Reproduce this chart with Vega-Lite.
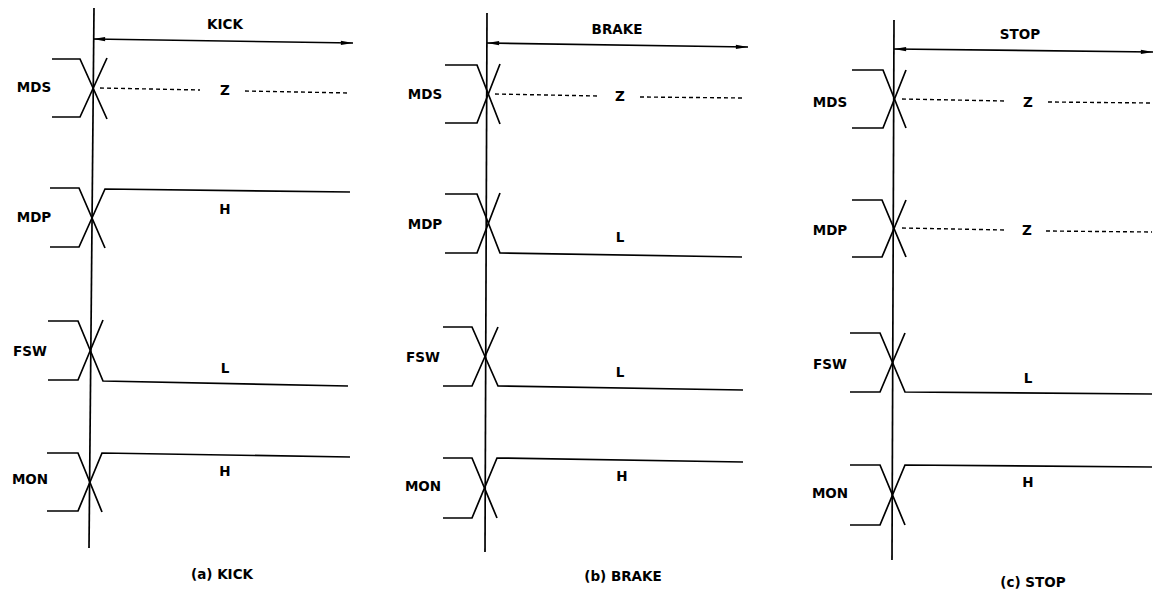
{
  "$schema": "https://vega.github.io/schema/vega-lite/v6.json",
  "width": 1162,
  "height": 595,
  "autosize": {"type": "fit", "contains": "padding"},
  "padding": 0,
  "background": "white",
  "config": {"view": {"stroke": null}},
  "datasets": {
    "solid": [
      {"id": "a_mds_u", "o": 1, "x": 52, "y": 59}, {"id": "a_mds_u", "o": 2, "x": 80, "y": 59}, {"id": "a_mds_u", "o": 3, "x": 107, "y": 119},
      {"id": "a_mds_l", "o": 1, "x": 52, "y": 117}, {"id": "a_mds_l", "o": 2, "x": 80, "y": 117}, {"id": "a_mds_l", "o": 3, "x": 107, "y": 58},
      {"id": "a_mdp_u", "o": 1, "x": 50, "y": 188}, {"id": "a_mdp_u", "o": 2, "x": 79, "y": 188}, {"id": "a_mdp_u", "o": 3, "x": 105, "y": 248},
      {"id": "a_mdp_l", "o": 1, "x": 50, "y": 247}, {"id": "a_mdp_l", "o": 2, "x": 79, "y": 247}, {"id": "a_mdp_l", "o": 3, "x": 105, "y": 189}, {"id": "a_mdp_l", "o": 4, "x": 350, "y": 192},
      {"id": "a_fsw_u", "o": 1, "x": 48, "y": 321}, {"id": "a_fsw_u", "o": 2, "x": 78, "y": 321}, {"id": "a_fsw_u", "o": 3, "x": 103, "y": 381}, {"id": "a_fsw_u", "o": 4, "x": 348, "y": 386},
      {"id": "a_fsw_l", "o": 1, "x": 48, "y": 380}, {"id": "a_fsw_l", "o": 2, "x": 78, "y": 380}, {"id": "a_fsw_l", "o": 3, "x": 103, "y": 320},
      {"id": "a_mon_u", "o": 1, "x": 47, "y": 453}, {"id": "a_mon_u", "o": 2, "x": 78, "y": 453}, {"id": "a_mon_u", "o": 3, "x": 102, "y": 512},
      {"id": "a_mon_l", "o": 1, "x": 47, "y": 511}, {"id": "a_mon_l", "o": 2, "x": 78, "y": 511}, {"id": "a_mon_l", "o": 3, "x": 102, "y": 453}, {"id": "a_mon_l", "o": 4, "x": 350, "y": 457},
      {"id": "a_v", "o": 1, "x": 94, "y": 8}, {"id": "a_v", "o": 2, "x": 89, "y": 548},
      {"id": "a_arrow", "o": 1, "x": 93, "y": 39}, {"id": "a_arrow", "o": 2, "x": 353, "y": 43},

      {"id": "b_mds_u", "o": 1, "x": 445, "y": 65}, {"id": "b_mds_u", "o": 2, "x": 477, "y": 65}, {"id": "b_mds_u", "o": 3, "x": 500, "y": 124},
      {"id": "b_mds_l", "o": 1, "x": 445, "y": 123}, {"id": "b_mds_l", "o": 2, "x": 477, "y": 123}, {"id": "b_mds_l", "o": 3, "x": 500, "y": 64},
      {"id": "b_mdp_u", "o": 1, "x": 445, "y": 194}, {"id": "b_mdp_u", "o": 2, "x": 477, "y": 194}, {"id": "b_mdp_u", "o": 3, "x": 500, "y": 253}, {"id": "b_mdp_u", "o": 4, "x": 742, "y": 257},
      {"id": "b_mdp_l", "o": 1, "x": 445, "y": 253}, {"id": "b_mdp_l", "o": 2, "x": 477, "y": 253}, {"id": "b_mdp_l", "o": 3, "x": 500, "y": 193},
      {"id": "b_fsw_u", "o": 1, "x": 443, "y": 327}, {"id": "b_fsw_u", "o": 2, "x": 472, "y": 327}, {"id": "b_fsw_u", "o": 3, "x": 498, "y": 386}, {"id": "b_fsw_u", "o": 4, "x": 743, "y": 390},
      {"id": "b_fsw_l", "o": 1, "x": 443, "y": 386}, {"id": "b_fsw_l", "o": 2, "x": 472, "y": 386}, {"id": "b_fsw_l", "o": 3, "x": 498, "y": 327},
      {"id": "b_mon_u", "o": 1, "x": 443, "y": 458}, {"id": "b_mon_u", "o": 2, "x": 472, "y": 458}, {"id": "b_mon_u", "o": 3, "x": 497, "y": 518},
      {"id": "b_mon_l", "o": 1, "x": 443, "y": 518}, {"id": "b_mon_l", "o": 2, "x": 472, "y": 518}, {"id": "b_mon_l", "o": 3, "x": 497, "y": 458}, {"id": "b_mon_l", "o": 4, "x": 743, "y": 462},
      {"id": "b_v", "o": 1, "x": 487, "y": 13}, {"id": "b_v", "o": 2, "x": 485, "y": 552},
      {"id": "b_arrow", "o": 1, "x": 487, "y": 43}, {"id": "b_arrow", "o": 2, "x": 748, "y": 47},

      {"id": "c_mds_u", "o": 1, "x": 852, "y": 70}, {"id": "c_mds_u", "o": 2, "x": 883, "y": 70}, {"id": "c_mds_u", "o": 3, "x": 906, "y": 128},
      {"id": "c_mds_l", "o": 1, "x": 852, "y": 128}, {"id": "c_mds_l", "o": 2, "x": 883, "y": 128}, {"id": "c_mds_l", "o": 3, "x": 906, "y": 70},
      {"id": "c_mdp_u", "o": 1, "x": 852, "y": 200}, {"id": "c_mdp_u", "o": 2, "x": 882, "y": 200}, {"id": "c_mdp_u", "o": 3, "x": 906, "y": 257},
      {"id": "c_mdp_l", "o": 1, "x": 852, "y": 257}, {"id": "c_mdp_l", "o": 2, "x": 882, "y": 257}, {"id": "c_mdp_l", "o": 3, "x": 906, "y": 200},
      {"id": "c_fsw_u", "o": 1, "x": 850, "y": 333}, {"id": "c_fsw_u", "o": 2, "x": 880, "y": 333}, {"id": "c_fsw_u", "o": 3, "x": 905, "y": 392}, {"id": "c_fsw_u", "o": 4, "x": 1152, "y": 394},
      {"id": "c_fsw_l", "o": 1, "x": 850, "y": 392}, {"id": "c_fsw_l", "o": 2, "x": 880, "y": 392}, {"id": "c_fsw_l", "o": 3, "x": 905, "y": 333},
      {"id": "c_mon_u", "o": 1, "x": 850, "y": 465}, {"id": "c_mon_u", "o": 2, "x": 880, "y": 465}, {"id": "c_mon_u", "o": 3, "x": 905, "y": 525},
      {"id": "c_mon_l", "o": 1, "x": 850, "y": 525}, {"id": "c_mon_l", "o": 2, "x": 880, "y": 525}, {"id": "c_mon_l", "o": 3, "x": 905, "y": 465}, {"id": "c_mon_l", "o": 4, "x": 1152, "y": 467},
      {"id": "c_v", "o": 1, "x": 894, "y": 20}, {"id": "c_v", "o": 2, "x": 892, "y": 560},
      {"id": "c_arrow", "o": 1, "x": 894, "y": 49}, {"id": "c_arrow", "o": 2, "x": 1153, "y": 52}
    ],
    "dashed": [
      {"id": "a_z1", "o": 1, "x": 100, "y": 88}, {"id": "a_z1", "o": 2, "x": 200, "y": 90},
      {"id": "a_z2", "o": 1, "x": 245, "y": 91}, {"id": "a_z2", "o": 2, "x": 350, "y": 93},
      {"id": "b_z1", "o": 1, "x": 495, "y": 94}, {"id": "b_z1", "o": 2, "x": 598, "y": 96},
      {"id": "b_z2", "o": 1, "x": 640, "y": 97}, {"id": "b_z2", "o": 2, "x": 745, "y": 98},
      {"id": "c_z1", "o": 1, "x": 902, "y": 99}, {"id": "c_z1", "o": 2, "x": 1005, "y": 101},
      {"id": "c_z2", "o": 1, "x": 1048, "y": 102}, {"id": "c_z2", "o": 2, "x": 1152, "y": 103},
      {"id": "c_z3", "o": 1, "x": 902, "y": 228}, {"id": "c_z3", "o": 2, "x": 1005, "y": 230},
      {"id": "c_z4", "o": 1, "x": 1046, "y": 231}, {"id": "c_z4", "o": 2, "x": 1152, "y": 232}
    ],
    "texts": [
      {"x": 225, "y": 25, "t": "KICK"}, {"x": 617, "y": 30, "t": "BRAKE"}, {"x": 1020, "y": 35, "t": "STOP"},
      {"x": 34, "y": 88, "t": "MDS"}, {"x": 34, "y": 218, "t": "MDP"}, {"x": 30, "y": 352, "t": "FSW"}, {"x": 30, "y": 480, "t": "MON"},
      {"x": 425, "y": 95, "t": "MDS"}, {"x": 425, "y": 225, "t": "MDP"}, {"x": 423, "y": 358, "t": "FSW"}, {"x": 423, "y": 487, "t": "MON"},
      {"x": 830, "y": 103, "t": "MDS"}, {"x": 830, "y": 231, "t": "MDP"}, {"x": 830, "y": 365, "t": "FSW"}, {"x": 830, "y": 494, "t": "MON"},
      {"x": 225, "y": 91, "t": "Z"}, {"x": 225, "y": 210, "t": "H"}, {"x": 225, "y": 369, "t": "L"}, {"x": 225, "y": 472, "t": "H"},
      {"x": 620, "y": 97, "t": "Z"}, {"x": 620, "y": 238, "t": "L"}, {"x": 620, "y": 373, "t": "L"}, {"x": 622, "y": 477, "t": "H"},
      {"x": 1028, "y": 103, "t": "Z"}, {"x": 1027, "y": 231, "t": "Z"}, {"x": 1028, "y": 379, "t": "L"}, {"x": 1028, "y": 483, "t": "H"},
      {"x": 222, "y": 575, "t": "(a)  KICK"}, {"x": 623, "y": 577, "t": "(b)  BRAKE"}, {"x": 1033, "y": 583, "t": "(c)  STOP"}
    ],
    "lheads": [
      {"x": 99, "y": 39.1}, {"x": 493, "y": 43.1}, {"x": 900, "y": 49.1}
    ],
    "rheads": [
      {"x": 347, "y": 42.9}, {"x": 742, "y": 46.9}, {"x": 1147, "y": 51.9}
    ]
  },
  "encoding": {
    "x": {"field": "x", "type": "quantitative", "scale": {"domain": [0, 1162], "nice": false, "zero": false}, "axis": null},
    "y": {"field": "y", "type": "quantitative", "scale": {"domain": [0, 595], "nice": false, "zero": false, "reverse": true}, "axis": null}
  },
  "layer": [
    {
      "data": {"name": "solid"},
      "mark": {"type": "line", "color": "black", "strokeWidth": 1.7},
      "encoding": {"detail": {"field": "id"}, "order": {"field": "o", "type": "quantitative"}}
    },
    {
      "data": {"name": "dashed"},
      "mark": {"type": "line", "color": "black", "strokeWidth": 1.4, "strokeDash": [4, 3]},
      "encoding": {"detail": {"field": "id"}, "order": {"field": "o", "type": "quantitative"}}
    },
    {
      "data": {"name": "texts"},
      "mark": {"type": "text", "font": "DejaVu Sans", "fontSize": 13.5, "fontWeight": "bold", "color": "black", "align": "center", "baseline": "middle"},
      "encoding": {"text": {"field": "t"}}
    },
    {
      "data": {"name": "lheads"},
      "mark": {"type": "point", "filled": true, "opacity": 1, "color": "black", "size": 150, "shape": "M-1,0L1,-0.35L1,0.35Z"}
    },
    {
      "data": {"name": "rheads"},
      "mark": {"type": "point", "filled": true, "opacity": 1, "color": "black", "size": 150, "shape": "M1,0L-1,-0.35L-1,0.35Z"}
    }
  ]
}
